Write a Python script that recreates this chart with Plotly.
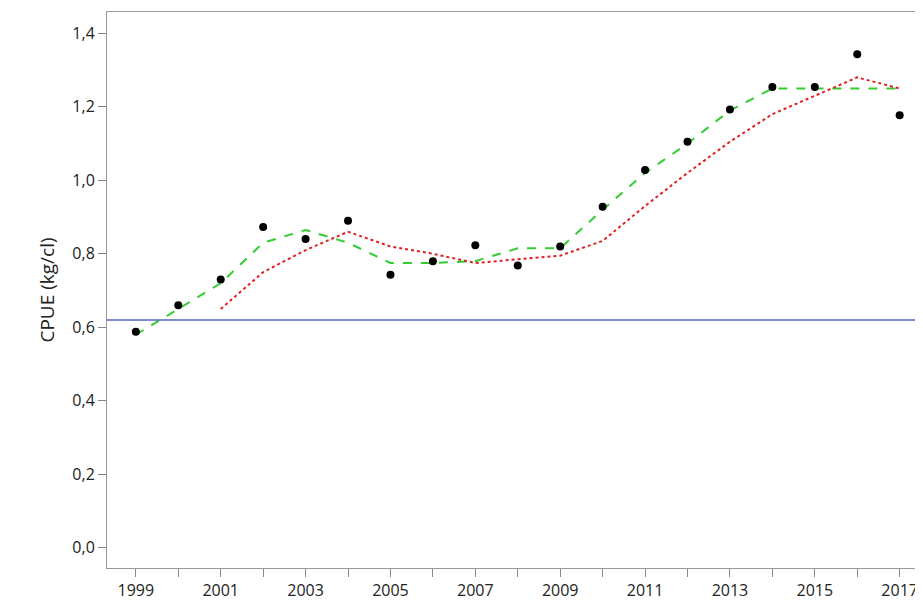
import plotly.graph_objects as go

years = list(range(1999, 2018))
cpue = [0.588, 0.66, 0.73, 0.873, 0.84, 0.89, 0.743, 0.78, 0.823, 0.768, 0.82,
        0.928, 1.028, 1.105, 1.193, 1.254, 1.254, 1.343, 1.177]
green_fit = [0.58, 0.65, 0.72, 0.83, 0.865, 0.83, 0.775, 0.775, 0.78, 0.815, 0.815,
             0.92, 1.02, 1.10, 1.19, 1.25, 1.25, 1.25, 1.25]
red_years = list(range(2001, 2018))
red_fit = [0.65, 0.75, 0.81, 0.86, 0.82, 0.80, 0.775, 0.785, 0.795, 0.835, 0.93,
           1.02, 1.105, 1.18, 1.23, 1.28, 1.25]
reference_level = 0.62

fig = go.Figure()
fig.add_hline(y=reference_level, line=dict(color="#5060c0", width=1.5))
fig.add_trace(go.Scatter(x=years, y=green_fit, mode="lines",
                         line=dict(color="#33cc33", width=2, dash="dash")))
fig.add_trace(go.Scatter(x=red_years, y=red_fit, mode="lines",
                         line=dict(color="#e02020", width=2, dash="dot")))
fig.add_trace(go.Scatter(x=years, y=cpue, mode="markers",
                         marker=dict(color="black", size=8)))

fig.update_layout(
    width=915, height=599, showlegend=False,
    plot_bgcolor="white", paper_bgcolor="white",
    separators=", ",
    margin=dict(l=99, r=0, t=4, b=39, autoexpand=False),
    font=dict(family="Open Sans", size=16, color="#222"),
)
fig.update_xaxes(range=[1998.32, 2017.55], tickvals=list(range(1999, 2018, 2)),
                 ticks="outside", ticklen=8, tickcolor="#888", automargin=False,
                 showgrid=False, showline=True, linecolor="#999", mirror=True,
                 minor=dict(tickvals=list(range(2000, 2018, 2)), ticks="outside",
                            ticklen=8, tickcolor="#888"))
fig.update_yaxes(range=[-0.055, 1.458], tickvals=[0, 0.2, 0.4, 0.6, 0.8, 1.0, 1.2, 1.4],
                 tickformat=".1f", ticks="outside", ticklen=8, tickcolor="#888", automargin=False,
                 showgrid=False, zeroline=False, showline=True, linecolor="#999", mirror=True,
                 title=dict(text="CPUE (kg/cl)", font=dict(size=19), standoff=12))

fig.write_html("out.html")
